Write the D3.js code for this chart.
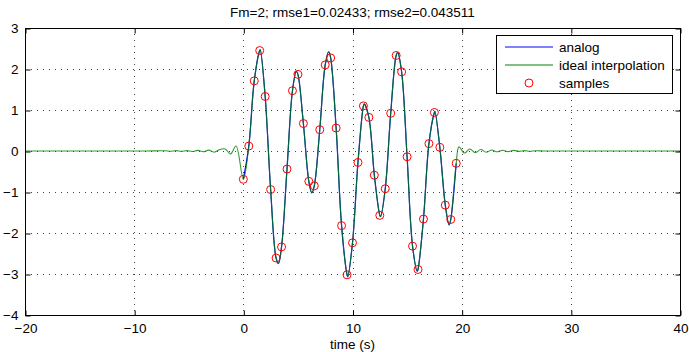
<!DOCTYPE html>
<html><head><meta charset="utf-8">
<script src="https://cdn.jsdelivr.net/npm/d3@7"></script>
<style>
body{margin:0;background:#fff;}
text{font-family:"Liberation Sans",Arial,Helvetica,sans-serif;}
</style></head>
<body><svg id="c" width="689" height="352"></svg>
<script>
// ---- data ----
const titleText = "Fm=2; rmse1=0.02433; rmse2=0.043511";
const xLabel = "time (s)";
const xTicks = [-20,-10,0,10,20,30,40];
const yTicks = [-4,-3,-2,-1,0,1,2,3];
const legendLabels = ["analog","ideal interpolation","samples"];

const sampleTimes = [0,0.5,1,1.5,2,2.5,3,3.5,4,4.5,5,5.5,6,6.5,7,7.5,8,8.5,9,9.5,
                     10,10.5,11,11.5,12,12.5,13,13.5,14,14.5,15,15.5,16,16.5,17,17.5,18,18.5,19,19.5];
const sampleValues = [-0.69,0.12,1.71,2.45,1.33,-0.94,-2.61,-2.34,-0.44,1.47,1.87,0.67,-0.74,-0.85,0.52,2.10,2.27,0.56,-1.82,-3.02,
                      -2.24,-0.28,1.10,0.82,-0.59,-1.57,-0.92,0.92,2.33,1.93,-0.14,-2.32,-2.89,-1.66,0.18,0.94,0.09,-1.32,-1.67,-0.30];

// extrema of the analog curve between samples
const extremaTimes  = [1.55,3.22,4.85,6.27,7.82,9.56,11.08,12.57,14.14,15.93,17.55,18.85];
const extremaValues = [2.47,-2.74,1.94,-1.02,2.42,-3.07,1.15,-1.60,2.40,-2.93,0.97,-1.80];

// ringing of the ideal interpolation outside the sampled window
const leftTailTimes  = [-20,-12,-9,-7.17,-6.67,-6.17,-5.67,-5.17,-4.67,-4.17,-3.67,-3.17,-2.67,-2.17,-1.67,-1.17,-0.67];
const leftTailValues = [0,0,0,0.006,-0.007,0.008,-0.009,0.01,-0.012,0.015,-0.02,0.022,-0.028,0.035,0.05,-0.07,0.12];
const rightTailTimes  = [19.75,20.25,20.75,21.25,21.75,22.25,22.75,23.25,23.75,24.25,24.75,25.25,25.75,26.25,26.75,27.5,29,40];
const rightTailValues = [0.10,-0.05,0.05,-0.04,0.035,-0.03,0.025,-0.02,0.02,-0.015,0.015,-0.01,0.01,-0.008,0.006,0,0,0];
// ------------------------------------------------------------------

const FS = 13.5;
const svg = d3.select("#c");
const L=25, R=680, T=28, B=315;
const x = d3.scaleLinear().domain([-20,40]).range([L,R]);
const y = d3.scaleLinear().domain([-4,3]).range([B,T]);

// grid
const g = svg.append("g");
g.selectAll("line.vg").data(xTicks.filter(d=>d>-20&&d<40)).enter().append("line")
  .attr("x1",d=>Math.round(x(d))+0.5).attr("x2",d=>Math.round(x(d))+0.5).attr("y1",T).attr("y2",B)
  .attr("stroke","#444").attr("stroke-width",1).attr("stroke-dasharray","1,5");
g.selectAll("line.hg").data(yTicks.filter(d=>d>-4&&d<3)).enter().append("line")
  .attr("y1",d=>Math.round(y(d))+0.5).attr("y2",d=>Math.round(y(d))+0.5).attr("x1",L).attr("x2",R)
  .attr("stroke","#444").attr("stroke-width",1).attr("stroke-dasharray","1,5");

// analog points: samples + extrema
const analogPts = sampleTimes.map((t,i)=>[t,sampleValues[i]])
  .concat(extremaTimes.map((t,i)=>[t,extremaValues[i]]))
  .sort((a,b)=>a[0]-b[0]);
const interpPts = leftTailTimes.map((t,i)=>[t,leftTailValues[i]])
  .concat(analogPts)
  .concat(rightTailTimes.map((t,i)=>[t,rightTailValues[i]]));

const line = d3.line().x(d=>x(d[0])).y(d=>y(d[1])).curve(d3.curveCatmullRom.alpha(0.5));
svg.append("path").attr("d",line(analogPts)).attr("fill","none").attr("stroke","#0000ff").attr("stroke-width",1.2);
svg.append("path").attr("d",line(interpPts)).attr("fill","none").attr("stroke","#008000").attr("stroke-width",1.1).attr("stroke-opacity",0.8);

// samples
svg.append("g").selectAll("circle").data(sampleTimes).enter().append("circle")
  .attr("cx",(d)=>x(d)).attr("cy",(d,i)=>y(sampleValues[i])).attr("r",4)
  .attr("fill","none").attr("stroke","#ff0000").attr("stroke-width",1);

// frame
svg.append("rect").attr("x",L+0.5).attr("y",T+0.5).attr("width",R-L).attr("height",B-T)
  .attr("fill","none").attr("stroke","#000").attr("stroke-width",1);

// axes
const fmt = d3.format("d");
const xa = svg.append("g").attr("transform",`translate(0.5,${B+0.5})`)
  .call(d3.axisBottom(x).tickValues(xTicks).tickFormat(fmt).tickSizeInner(-5).tickSizeOuter(0).tickPadding(8));
const ya = svg.append("g").attr("transform",`translate(${L+0.5},0.5)`)
  .call(d3.axisLeft(y).tickValues(yTicks).tickFormat(fmt).tickSizeInner(-5).tickSizeOuter(0).tickPadding(7));
const xt = svg.append("g").attr("transform",`translate(0.5,${T+0.5})`)
  .call(d3.axisTop(x).tickValues(xTicks).tickSizeInner(-5).tickSizeOuter(0).tickFormat(""));
const yr = svg.append("g").attr("transform",`translate(${R+0.5},0.5)`)
  .call(d3.axisRight(y).tickValues(yTicks).tickSizeInner(-5).tickSizeOuter(0).tickFormat(""));
[xa,ya,xt,yr].forEach(a=>{
  a.select(".domain").remove();
  a.selectAll("text").attr("font-size",FS).attr("fill","#000").attr("font-family","Liberation Sans, Arial, sans-serif");
  a.selectAll("line").attr("stroke","#000");
});

// title & label
svg.append("text").attr("x",(L+R)/2).attr("y",17).attr("text-anchor","middle")
  .attr("font-size",FS).text(titleText);
svg.append("text").attr("x",(L+R)/2).attr("y",349).attr("text-anchor","middle")
  .attr("font-size",FS).text(xLabel);

// legend
const lg = svg.append("g");
lg.append("rect").attr("x",496.5).attr("y",35.5).attr("width",176).attr("height",58)
  .attr("fill","#fff").attr("stroke","#000").attr("stroke-width",1);
const rows=[47,65,83];
lg.append("line").attr("x1",505).attr("x2",553).attr("y1",rows[0]).attr("y2",rows[0]).attr("stroke","#0000ff");
lg.append("line").attr("x1",505).attr("x2",553).attr("y1",rows[1]).attr("y2",rows[1]).attr("stroke","#008000");
lg.append("circle").attr("cx",529).attr("cy",rows[2]).attr("r",4).attr("fill","none").attr("stroke","#ff0000");
lg.selectAll("text").data(legendLabels).enter().append("text")
  .attr("x",559).attr("y",(d,i)=>rows[i]+5).attr("font-size",FS).text(d=>d);
</script></body></html>
